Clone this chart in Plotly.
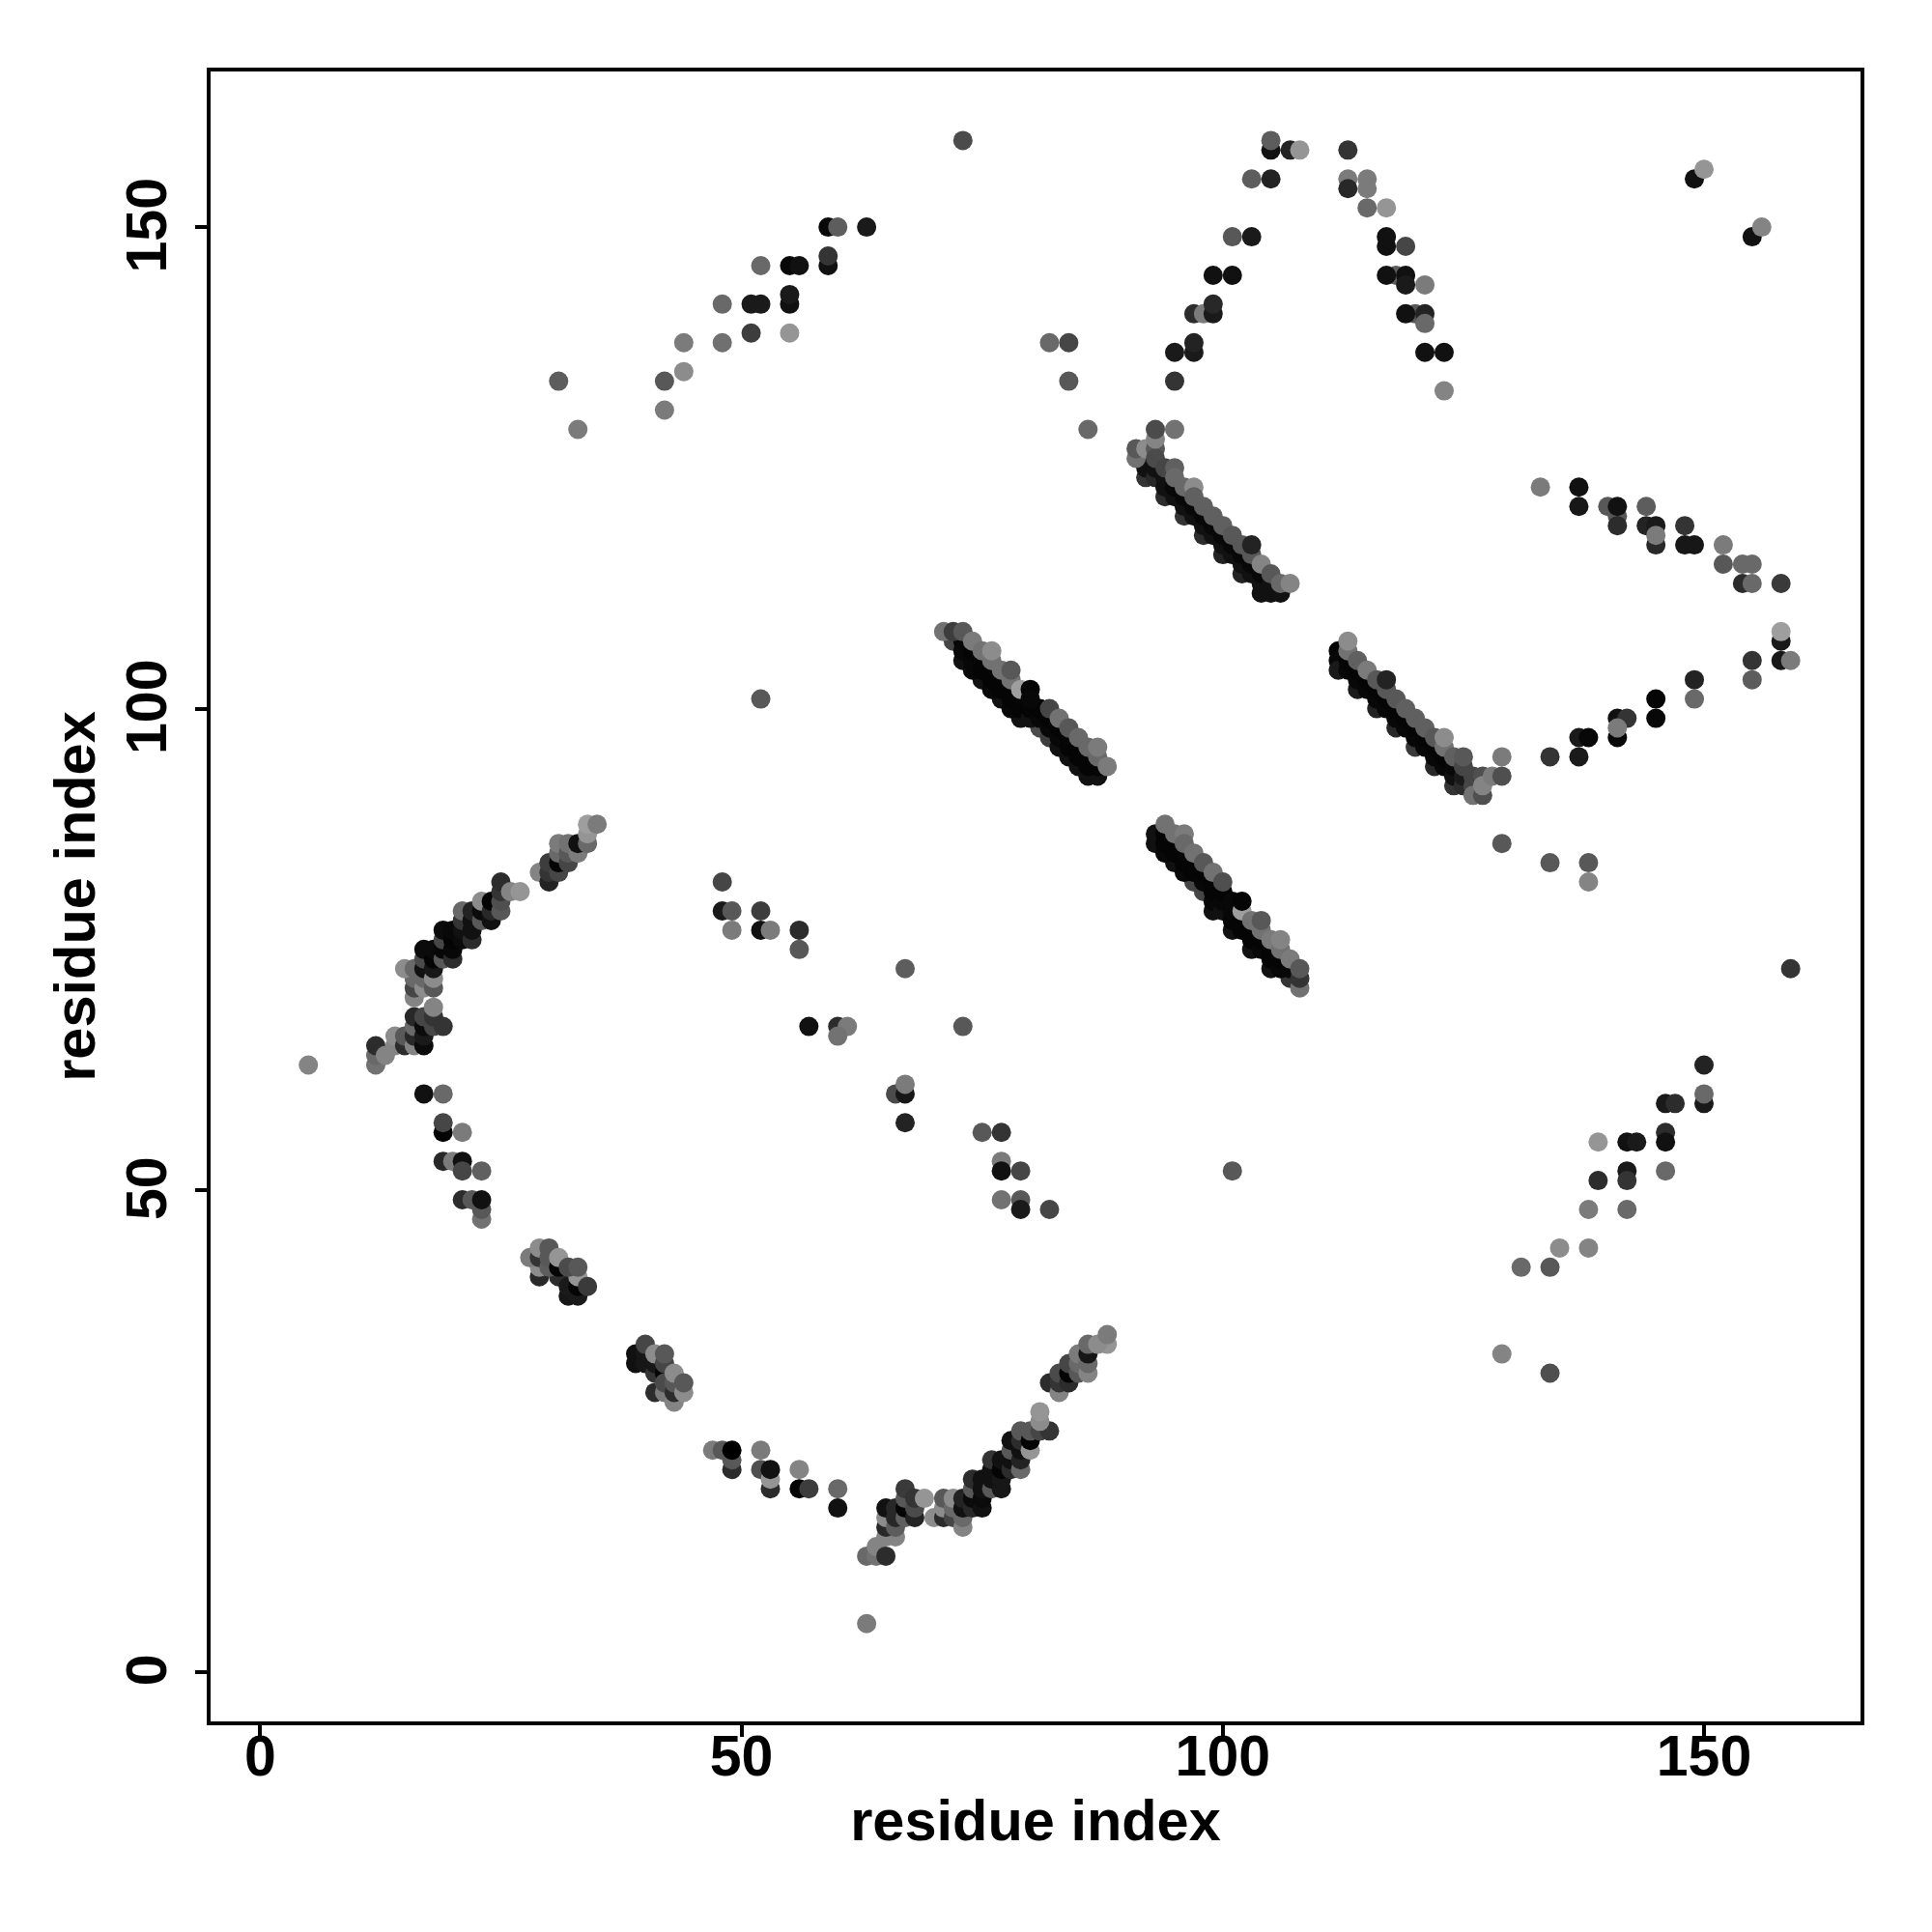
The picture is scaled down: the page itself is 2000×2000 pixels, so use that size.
import plotly.graph_objects as go

# contacts: (residue i, residue j, grey level of the point)
arc_top_left = [(31,134,0x55),(33,129,0x70),(42,134,0x50),(42,131,0x70),(44,135,0x80),(44,138,0x70),(48,138,0x66),(48,142,0x60),
 (51,139,0x38),(51,142,0x18),(52,142,0x18),(52,146,0x60),(55,142,0x10),(55,143,0x18),(55,146,0x08),(56,146,0x10),(55,139,0x88),
 (59,146,0x10),(59,147,0x30),(59,150,0x08),(60,150,0x55),(63,150,0x18),(73,159,0x45),
 (82,138,0x60),(84,138,0x40),(84,134,0x50),(86,129,0x60)]
arc_top_mid = [(95,134,0x30),(95,137,0x18),(97,137,0x18),(97,138,0x20),(97,141,0x28),(98,141,0x70),(99,141,0x18),(99,142,0x25),
 (99,145,0x10),(101,145,0x10),(101,149,0x50),(103,149,0x18),(103,155,0x55),(105,155,0x20),(105,158,0x10),(105,159,0x55),
 (107,158,0x20),(108,158,0x88),(113,158,0x30),(113,155,0x70),(113,154,0x25),(115,155,0x70),(115,154,0x70),(115,152,0x60),
 (117,152,0x88),(117,149,0x10),(117,148,0x10),(119,148,0x40),(118,145,0x55),(117,145,0x10),(119,145,0x10),(119,144,0x18),
 (121,144,0x70),(120,141,0x50),(119,141,0x10),(121,141,0x20),(121,140,0x60),(121,137,0x10),(123,137,0x10),(123,133,0x78)]
band_a_dark = [(92,124,0x30),(94,122,0x28),(96,120,0x30),(98,118,0x28),(100,116,0x20),(102,114,0x20),(104,112,0x10),(105,112,0x10),(106,112,0x10),
 (92,125,0x10),(93,124,0x25),(93,125,0x10),(94,123,0x10),(94,124,0x10),(95,122,0x10),(95,123,0x08),(96,121,0x10),(96,122,0x08),
 (97,120,0x10),(97,121,0x08),(98,119,0x10),(98,120,0x08),(99,118,0x10),(99,119,0x08),(100,117,0x10),(100,118,0x08),(101,116,0x10),
 (101,117,0x08),(102,115,0x10),(102,116,0x08),(103,114,0x10),(103,115,0x08),(104,113,0x10),(104,114,0x08),(105,113,0x10)]
band_a_light = [(91,126,0x68),(91,127,0x50),(92,127,0x80),(93,127,0x50),(93,126,0x45),(94,125,0x40),(95,125,0x58),(95,124,0x60),
 (96,123,0x60),(97,123,0x80),(97,122,0x58),(98,121,0x58),(99,120,0x58),(100,119,0x58),(101,118,0x50),(102,117,0x50),(103,116,0x50),
 (103,117,0x20),(104,115,0x78),(105,114,0x50),(106,113,0x60),(107,113,0x78),(93,128,0x78),(93,129,0x45),(95,129,0x68)]
band_b_dark = [(72,107,0x40),(73,105,0x10),(75,103,0x10),(77,101,0x10),(79,99,0x10),(81,98,0x45),(82,97,0x38),(84,95,0x10),(86,93,0x10),(87,93,0x10),
 (73,107,0x05),(73,106,0x08),(74,104,0x08),(74,105,0x08),(74,106,0x05),(75,104,0x05),(75,105,0x05),(76,102,0x08),(76,103,0x05),(76,104,0x05),
 (77,102,0x05),(77,103,0x05),(78,100,0x08),(78,101,0x05),(78,102,0x05),(79,100,0x05),(79,101,0x05),(80,99,0x10),(80,100,0x05),(81,99,0x08),
 (81,100,0x05),(82,98,0x08),(82,99,0x05),(83,96,0x10),(83,97,0x08),(83,98,0x05),(84,96,0x05),(84,97,0x05),(85,94,0x10),(85,95,0x05),(85,96,0x05),
 (86,94,0x05),(86,95,0x05),(87,94,0x05)]
band_b_light = [(71,108,0x68),(72,108,0x38),(73,108,0x50),(74,107,0x70),(75,106,0x68),(76,105,0x68),(76,106,0x80),(77,104,0x68),(78,103,0x68),
 (78,104,0x50),(79,102,0x90),(80,102,0x05),(80,101,0x08),(82,100,0x40),(83,99,0x68),(84,98,0x50),(85,97,0x60),(86,96,0x60),(87,95,0x60),(87,96,0x70),(88,94,0x70)]
band_c_dark = [(93,87,0x10),(93,86,0x10),(95,84,0x10),(97,82,0x40),(98,81,0x40),(99,79,0x10),(101,77,0x10),(103,75,0x10),(105,73,0x10),(107,72,0x30),
 (94,85,0x08),(94,86,0x05),(94,87,0x05),(95,85,0x05),(95,86,0x05),(96,83,0x08),(96,84,0x05),(96,85,0x05),(97,83,0x05),(97,84,0x05),(98,82,0x08),
 (98,83,0x05),(99,80,0x08),(99,81,0x05),(99,82,0x05),(100,79,0x10),(100,80,0x08),(100,81,0x05),(101,78,0x05),(101,79,0x08),(101,80,0x08),(102,77,0x05),
 (102,78,0x05),(103,76,0x05),(103,77,0x05),(104,75,0x08),(104,76,0x05),(105,74,0x05),(105,75,0x05),(106,73,0x08),(106,74,0x05),(107,73,0x08)]
band_c_light = [(94,88,0x68),(95,87,0x68),(96,87,0x70),(96,86,0x60),(97,85,0x68),(98,84,0x50),(99,83,0x68),(100,82,0x48),(102,79,0x90),(102,80,0x05),
 (103,78,0x68),(104,77,0x68),(104,78,0x50),(105,76,0x70),(106,75,0x68),(106,76,0x78),(107,74,0x70),(108,71,0x68),(108,72,0x30),(108,73,0x50)]
band_d_dark = [(112,106,0x05),(112,105,0x08),(112,104,0x18),(114,102,0x18),(116,100,0x20),(118,98,0x25),(120,96,0x35),(122,94,0x25),(124,92,0x30),
 (113,104,0x08),(113,105,0x05),(114,103,0x08),(114,104,0x05),(115,102,0x08),(115,103,0x05),(116,101,0x08),(116,102,0x05),(117,100,0x08),(117,101,0x05),
 (118,99,0x08),(118,100,0x05),(119,98,0x08),(119,99,0x05),(120,97,0x08),(120,98,0x05),(121,96,0x08),(121,97,0x05),(122,95,0x08),(122,96,0x05),
 (123,94,0x08),(123,95,0x05),(124,93,0x10),(124,94,0x08),(125,92,0x28),(125,93,0x18),(126,92,0x40)]
band_d_light = [(113,106,0x68),(113,107,0x80),(114,105,0x58),(115,104,0x70),(116,103,0x50),(117,102,0x50),(117,103,0x20),(118,101,0x50),(119,100,0x58),
 (120,99,0x58),(121,98,0x58),(122,97,0x50),(123,96,0x68),(123,97,0x80),(124,95,0x58),(125,94,0x40),(125,95,0x50),(126,91,0x68),(127,91,0x48),(126,93,0x40),
 (127,93,0x48),(127,92,0x78),(128,93,0x70),(129,93,0x48),(129,95,0x70)]
right_upper = [(133,123,0x70),(137,123,0x10),(137,121,0x15),(140,121,0x50),(141,120,0x50),(141,121,0x10),(141,119,0x28),(144,121,0x55),(144,119,0x20),
 (145,119,0x18),(145,117,0x25),(145,118,0x70),(148,119,0x30),(148,117,0x15),(149,117,0x15),(152,117,0x70),(152,115,0x50),(154,115,0x60),(155,115,0x60),
 (154,113,0x28),(155,113,0x60),(158,113,0x35),(149,155,0x10),(150,156,0x88),(155,149,0x10),(156,150,0x78)]
right_mid = [(134,95,0x30),(137,97,0x18),(138,97,0x08),(137,95,0x18),(141,97,0x08),(141,99,0x10),(142,99,0x30),(141,98,0x70),(145,101,0x05),(145,99,0x08),
 (149,103,0x20),(149,101,0x60),(155,105,0x30),(155,103,0x55),(158,105,0x15),(159,105,0x70),(158,107,0x18),(158,108,0x90),
 (129,86,0x50),(134,84,0x50),(138,84,0x50),(138,82,0x78),(159,73,0x30)]
centre = [(52,101,0x50),(101,52,0x50),(48,82,0x40),(48,79,0x18),(49,79,0x50),(49,77,0x70),(52,79,0x38),(52,77,0x10),(53,77,0x70),(56,77,0x28),(56,75,0x50),
 (57,67,0x10),(60,67,0x28),(61,67,0x70),(60,66,0x68),(67,73,0x55),(66,60,0x45),(67,60,0x15),(67,61,0x70),(67,57,0x20),(73,67,0x50),(75,56,0x50),(77,56,0x30),
 (77,53,0x70),(77,52,0x10),(79,52,0x40),(77,49,0x68),(79,49,0x50),(79,48,0x18),(82,48,0x40)]
left_lower = [(17,60,0x10),(19,60,0x60),(19,56,0x05),(19,57,0x40),(21,56,0x70),(19,53,0x25),(20,53,0x70),(21,53,0x10),(21,52,0x40),(23,52,0x58),
 (21,49,0x28),(22,49,0x50),(23,47,0x68),(23,48,0x50),(23,49,0x10)]
cluster_30 = [(29,41,0x25),(31,41,0x28),(29,42,0x80),(28,43,0x70),(29,43,0x30),(29,44,0x80),(30,42,0x55),(30,43,0x50),(30,44,0x50),(31,42,0x05),(31,43,0x88),
 (32,39,0x15),(33,39,0x18),(32,40,0x18),(33,40,0x05),(33,41,0x88),(32,42,0x45),(33,42,0x50),(34,40,0x35)]
cluster_40 = [(39,32,0x10),(39,33,0x10),(40,32,0x15),(40,33,0x15),(40,34,0x40),(41,29,0x28),(41,31,0x30),(41,32,0x15),(41,33,0x80),(42,31,0x05),(42,32,0x40),
 (42,33,0x50),(42,29,0x70),(42,30,0x45),(43,28,0x78),(43,29,0x28),(43,30,0x50),(43,31,0x80),(44,29,0x80),(44,30,0x50)]
lower_run = [(47,23,0x70),(48,23,0x50),(49,21,0x28),(49,22,0x50),(49,23,0x00),(52,23,0x70),(52,21,0x48),(53,19,0x28),(53,20,0x88),(53,21,0x10),
 (56,21,0x78),(56,19,0x05),(57,19,0x38),(60,19,0x60),(60,17,0x10),(63,5,0x70)]
valley = [(63,12,0x60),(64,12,0x68),(64,13,0x78),(65,14,0x78),(66,14,0x78),(65,12,0x28),(65,15,0x25),(65,16,0x80),(65,17,0x10),(66,15,0x55),(66,16,0x25),(66,17,0x25),
 (67,16,0x58),(67,17,0x05),(67,18,0x50),(67,19,0x35),(68,16,0x20),(68,17,0x45),(68,18,0x30),(69,18,0x88),(70,16,0x80),(71,16,0x28),(71,17,0x80),(71,18,0x50),
 (72,16,0x40),(72,17,0x60),(72,18,0x80),(73,15,0x78),(73,16,0x60),(73,17,0x10),(73,18,0x20),(74,17,0x25),(74,18,0x0a),(74,19,0x50),(74,20,0x28),
 (75,17,0x10),(75,18,0x0a),(75,19,0x10),(75,20,0x10),(76,19,0x50),(76,20,0x10),(76,21,0x10),(76,22,0x30),(77,19,0x15),(77,20,0x15),(77,21,0x05),(77,22,0x10),
 (78,21,0x28),(78,22,0x10),(78,23,0x50),(78,24,0x10),(79,21,0x60),(79,22,0x20),(79,23,0x10),(79,24,0x28),(79,25,0x50),(80,23,0x88),(80,24,0x05),(80,25,0x50),
 (81,25,0x40),(82,25,0x30),(81,26,0x80),(81,27,0x88)]
rise = [(82,30,0x28),(83,29,0x78),(83,30,0x30),(83,31,0x45),(84,30,0x28),(84,31,0x05),(84,32,0x40),(85,31,0x50),(85,32,0x60),(85,33,0x70),(86,31,0x78),(86,32,0x60),
 (86,33,0x15),(86,34,0x60),(88,34,0x88),(87,34,0x80),(88,35,0x70)]
left_arm_lower = [(5,63,0x78),(12,63,0x68),(12,64,0x60),(12,65,0x28),(13,64,0x78),(14,65,0x78),(14,66,0x80),(15,65,0x28),(15,66,0x50),(16,65,0x78),(16,66,0x25),(16,67,0x60),
 (16,68,0x25),(17,65,0x0a),(17,66,0x18),(17,67,0x0a),(17,68,0x40),(18,67,0x40),(18,68,0x30),(18,69,0x78),(19,67,0x30)]
left_arm_upper = [(16,70,0x78),(16,71,0x40),(16,72,0x60),(15,73,0x80),(16,73,0x60),(17,71,0x80),(17,72,0x60),(17,73,0x10),(17,74,0x45),(17,75,0x0a),
 (18,71,0x50),(18,72,0x80),(18,73,0x15),(18,74,0x05),(18,75,0x0a),(19,74,0x50),(19,75,0x08),(19,76,0x40),(19,77,0x0a),(20,74,0x28),(20,75,0x08),(20,76,0x05),(20,77,0x08),
 (21,76,0x0a),(21,77,0x10),(21,78,0x30),(21,79,0x60),(22,76,0x28),(22,77,0x10),(22,78,0x10),(22,79,0x20),(23,78,0x50),(23,79,0x0a),(23,80,0x80),(24,78,0x10),(24,79,0x25),(24,80,0x05),
 (25,79,0x50),(25,80,0x48),(25,81,0x30),(25,82,0x28),(26,81,0x78),(27,81,0x88),(29,83,0x78),(30,82,0x20),(30,83,0x30),(30,84,0x38),(31,83,0x40),(31,84,0x05),(31,85,0x60),(31,86,0x70),
 (32,84,0x40),(32,85,0x50),(32,86,0x68),(33,85,0x70),(33,86,0x10),(34,86,0x60),(34,87,0x88),(34,88,0x90),(35,88,0x70)]
lower_right = [(129,33,0x78),(134,31,0x48),(131,42,0x60),(134,42,0x50),(135,44,0x80),(138,44,0x78),(138,48,0x70),(139,55,0x88),(139,51,0x28),(142,55,0x10),(143,55,0x18),
 (142,52,0x18),(142,51,0x30),(142,48,0x60),(146,56,0x28),(146,55,0x10),(146,59,0x18),(147,59,0x28),(146,52,0x60),(150,63,0x20),(150,59,0x18),(150,60,0x60)]

tick_values = [0, 50, 100, 150]
axis_label = "residue index"

regions = [arc_top_left, arc_top_mid, band_a_dark, band_a_light, band_b_dark, band_b_light, band_c_dark, band_c_light,
           band_d_dark, band_d_light, right_upper, right_mid, centre, left_lower, cluster_30, cluster_40, lower_run,
           valley, rise, left_arm_lower, left_arm_upper, lower_right]
points = [p for region in regions for p in region]
xs = [p[0] for p in points]
ys = [p[1] for p in points]
colors = [f"rgb({int(p[2]*1.1)},{int(p[2]*1.1)},{int(p[2]*1.1)})" for p in points]

FONT = "Liberation Sans"
fig = go.Figure(go.Scatter(x=xs, y=ys, mode="markers",
                           marker=dict(size=20, color=colors, opacity=1, line=dict(width=0))))
axis = dict(tickvals=tick_values, ticks="outside", ticklen=12, tickwidth=3.5, tickcolor="black",
            showline=True, linewidth=3.5, linecolor="black", mirror=True, showgrid=False, zeroline=False,
            tickfont=dict(family=FONT, size=59, color="black", weight=700))
title_font = dict(family=FONT, size=59.5, color="black", weight=700)
fig.update_xaxes(**axis, range=[-5.16, 166.26], ticklabelstandoff=-31, title=dict(text=axis_label, font=title_font, standoff=12))
fig.update_yaxes(**axis, range=[-5.16, 166.16], tickangle=-90, ticklabelstandoff=7, ticklabelshift=7, title=dict(text=axis_label, font=title_font, standoff=2))
fig.update_layout(width=2000, height=2000, autosize=False, paper_bgcolor="white", plot_bgcolor="white", showlegend=False,
                  margin=dict(l=210, r=82, t=66, b=226, autoexpand=False))
fig.write_html("out.html")
